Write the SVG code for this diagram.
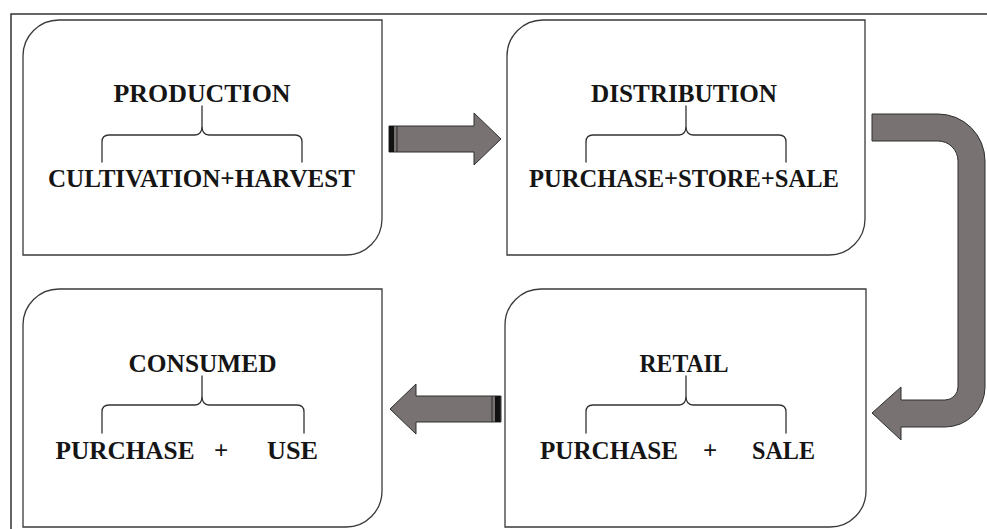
<svg xmlns="http://www.w3.org/2000/svg" width="987" height="529" viewBox="0 0 987 529">
  <style>
    .box { fill: #ffffff; stroke: #3a3a3a; stroke-width: 1.3; }
    .brace { fill: none; stroke: #333333; stroke-width: 1.3; stroke-linecap: round; }
    .lbl { font-family: "Liberation Serif", "Times New Roman", serif; font-weight: bold; font-size: 25px; fill: #151515; text-anchor: middle; }
    .arrow { fill: #787272; stroke: #2e2e2e; stroke-width: 1; stroke-linejoin: miter; }
    .stripe { fill: #111111; }
    .frame { fill: none; stroke: #333333; stroke-width: 1.5; }
  </style>
  <rect x="0" y="0" width="987" height="529" fill="#ffffff"/>
  <path class="frame" d="M11,529 V14 H987"/>

  <g id="production">
    <path class="box" d="M23,56 A36,36 0 0 1 59,20 H382 V219 A36,36 0 0 1 346,255 H23 Z"/>
    <text class="lbl" x="202" y="101.5" textLength="177" lengthAdjust="spacingAndGlyphs">PRODUCTION</text>
    <path class="brace" d="M102,162 V142 Q102,135 109,135 H195 Q202,135 202,126 M302,162 V142 Q302,135 295,135 H209 Q202,135 202,126 V106"/>
    <text class="lbl" x="201.5" y="187" textLength="307" lengthAdjust="spacingAndGlyphs">CULTIVATION+HARVEST</text>
  </g>

  <g id="distribution">
    <path class="box" d="M507,56 A36,36 0 0 1 543,20 H865 V219 A36,36 0 0 1 829,255 H507 Z"/>
    <text class="lbl" x="684" y="101.5" textLength="186" lengthAdjust="spacingAndGlyphs">DISTRIBUTION</text>
    <path class="brace" d="M586,162 V142 Q586,135 593,135 H679 Q686,135 686,126 M786,162 V142 Q786,135 779,135 H693 Q686,135 686,126 V106"/>
    <text class="lbl" x="684" y="187" textLength="310" lengthAdjust="spacingAndGlyphs">PURCHASE+STORE+SALE</text>
  </g>

  <g id="consumed">
    <path class="box" d="M23,325 A36,36 0 0 1 59,289 H382 V491 A36,36 0 0 1 346,527 H23 Z"/>
    <text class="lbl" x="202.5" y="372" textLength="148" lengthAdjust="spacingAndGlyphs">CONSUMED</text>
    <path class="brace" d="M102,433 V412 Q102,405 109,405 H195 Q202,405 202,396 M304,433 V412 Q304,405 297,405 H209 Q202,405 202,396 V376"/>
    <text class="lbl" y="458.5"><tspan x="125" textLength="139" lengthAdjust="spacingAndGlyphs">PURCHASE</tspan><tspan x="221">+</tspan><tspan x="292.5" textLength="51" lengthAdjust="spacingAndGlyphs">USE</tspan></text>
  </g>

  <g id="retail">
    <path class="box" d="M505,325 A36,36 0 0 1 541,289 H866 V491 A36,36 0 0 1 830,527 H505 Z"/>
    <text class="lbl" x="684" y="372" textLength="89" lengthAdjust="spacingAndGlyphs">RETAIL</text>
    <path class="brace" d="M586,433 V412 Q586,405 593,405 H679 Q686,405 686,396 M786,433 V412 Q786,405 779,405 H693 Q686,405 686,396 V376"/>
    <text class="lbl" y="458.5"><tspan x="609" textLength="138" lengthAdjust="spacingAndGlyphs">PURCHASE</tspan><tspan x="710">+</tspan><tspan x="783.5" textLength="63" lengthAdjust="spacingAndGlyphs">SALE</tspan></text>
  </g>

  <g id="connectors">
    <g id="arrow-production-distribution">
      <path class="arrow" d="M389,126 H474 V113 L501,139 L474,165 V152 H389 Z"/>
      <rect class="stripe" x="389" y="126" width="5" height="26"/>
      <line x1="397" y1="126" x2="397" y2="152" stroke="#2a2a2a" stroke-width="1"/>
    </g>
    <g id="arrow-distribution-retail">
      <path class="arrow" d="M872,114 H938 A47,47 0 0 1 985,161 V387 A40,40 0 0 1 945,427 H901 V440 L872,413 L901,387 V400 H945 A13,13 0 0 0 958,387 V161 A20,20 0 0 0 938,141 H872 Z"/>
    </g>
    <g id="arrow-retail-consumed">
      <path class="arrow" d="M501,396 H416 V384 L390,409 L416,434 V422 H501 Z"/>
      <rect class="stripe" x="495" y="396" width="5.5" height="26"/>
      <line x1="492" y1="396" x2="492" y2="422" stroke="#2a2a2a" stroke-width="1"/>
    </g>
  </g>
</svg>
